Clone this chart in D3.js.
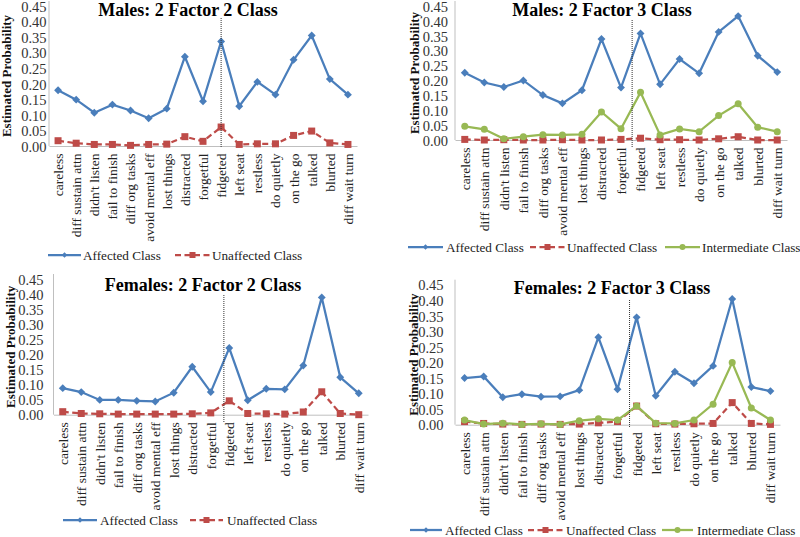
<!DOCTYPE html>
<html>
<head>
<meta charset="utf-8">
<script src="https://cdn.jsdelivr.net/npm/d3@7"></script>
<style>
  html, body { margin: 0; padding: 0; background: #fff; }
  svg { display: block; }
  svg text { font-family: "Liberation Serif", "Times New Roman", serif; }
</style>
</head>
<body>
<svg id="chart" width="800" height="537"></svg>
<script>
// ---------------- DATA ----------------
const categories = ["careless", "diff sustain attn", "didn't listen", "fail to finish", "diff org tasks",
  "avoid mental eff", "lost things", "distracted", "forgetful", "fidgeted", "left seat", "restless",
  "do quietly", "on the go", "talked", "blurted", "diff wait turn"];

const yTicks = [0, 0.05, 0.10, 0.15, 0.20, 0.25, 0.30, 0.35, 0.40, 0.45];

const seriesNames = ["Affected Class", "Unaffected Class", "Intermediate Class"];

const panelTitles = ["Males: 2 Factor 2 Class", "Males: 2 Factor 3 Class",
  "Females: 2 Factor 2 Class", "Females: 2 Factor 3 Class"];

const malesAffected2C   = [0.179, 0.149, 0.107, 0.133, 0.114, 0.089, 0.120, 0.287, 0.144, 0.336, 0.128, 0.206, 0.165, 0.277, 0.355, 0.215, 0.165];
const malesUnaffected2C = [0.017, 0.009, 0.005, 0.005, 0.002, 0.005, 0.006, 0.030, 0.015, 0.061, 0.005, 0.007, 0.007, 0.034, 0.048, 0.010, 0.005];

const malesAffected3C     = [0.226, 0.193, 0.178, 0.200, 0.151, 0.123, 0.167, 0.339, 0.176, 0.358, 0.187, 0.272, 0.224, 0.363, 0.416, 0.283, 0.228];
const malesUnaffected3C   = [0.002, 0.000, 0.001, 0.000, 0.000, 0.001, 0.000, 0.000, 0.002, 0.006, 0.001, 0.001, 0.000, 0.004, 0.011, 0.000, 0.000];
const malesIntermediate3C = [0.046, 0.036, 0.004, 0.011, 0.018, 0.017, 0.019, 0.094, 0.038, 0.160, 0.017, 0.037, 0.028, 0.082, 0.122, 0.043, 0.028];

const femalesAffected2C   = [0.088, 0.075, 0.049, 0.049, 0.046, 0.044, 0.073, 0.159, 0.075, 0.221, 0.048, 0.086, 0.084, 0.163, 0.389, 0.124, 0.071];
const femalesUnaffected2C = [0.010, 0.004, 0.003, 0.002, 0.002, 0.002, 0.002, 0.003, 0.006, 0.046, 0.004, 0.003, 0.002, 0.009, 0.076, 0.004, 0.000];

const femalesAffected3C     = [0.150, 0.155, 0.088, 0.098, 0.090, 0.091, 0.111, 0.281, 0.114, 0.345, 0.093, 0.170, 0.133, 0.189, 0.404, 0.121, 0.108];
const femalesUnaffected3C   = [0.010, 0.004, 0.002, 0.001, 0.002, 0.001, 0.002, 0.006, 0.010, 0.060, 0.003, 0.002, 0.003, 0.004, 0.071, 0.004, 0.001];
const femalesIntermediate3C = [0.015, 0.002, 0.005, 0.001, 0.003, 0.001, 0.013, 0.019, 0.015, 0.060, 0.005, 0.004, 0.015, 0.066, 0.200, 0.054, 0.015];

// ---------------- LAYOUT / STYLE ----------------
const colors = ["#4A7EBB", "#BE4B48", "#98B954"];
const dividerAfter = "forgetful";
const serif = "'Liberation Serif', 'Times New Roman', serif";

const panels = [
  { title: panelTitles[0], series: [malesAffected2C, malesUnaffected2C],
    x0: 49, x1: 357, yBottom: 146, yTop: 6, labelRight: 46.5, yTitleX: 11,
    titleX: 188, titleY: 16, divFrac: 1.0, divTop: 18, divBottom: 147,
    legendY: 255, legend: [[48, 81, 83], [175, 210, 212]] },
  { title: panelTitles[1], series: [malesAffected3C, malesUnaffected3C, malesIntermediate3C],
    x0: 455, x1: 787, yBottom: 140, yTop: 6, labelRight: 448, yTitleX: 419,
    titleX: 602, titleY: 16, divFrac: 0.57, divTop: 20, divBottom: 148,
    legendY: 247, legend: [[408, 443, 446], [530, 565, 567], [665, 700, 702]] },
  { title: panelTitles[2], series: [femalesAffected2C, femalesUnaffected2C],
    x0: 53.5, x1: 368, yBottom: 414.7, yTop: 279, labelRight: 43.5, yTitleX: 15,
    titleX: 203, titleY: 290.5, divFrac: 0.71, divTop: 295, divBottom: 422,
    legendY: 520, legend: [[63, 97, 100], [190, 223, 227]] },
  { title: panelTitles[3], series: [femalesAffected3C, femalesUnaffected3C, femalesIntermediate3C],
    x0: 455, x1: 780, yBottom: 424.7, yTop: 284.7, labelRight: 443.5, yTitleX: 418,
    titleX: 612, titleY: 293.5, divFrac: 0.63, divTop: 300, divBottom: 428,
    legendY: 530, legend: [[410, 442, 445], [528, 563, 566], [662, 693, 697]] }
];

const svg = d3.select("#chart");
svg.append("rect").attr("width", 800).attr("height", 537).attr("fill", "#fff");

function drawMarker(g, type, cx, cy, size, color) {
  if (type === 0) {
    g.append("path").attr("d", d3.symbol().type(d3.symbolDiamond2).size(size * size * 0.55)())
      .attr("transform", `translate(${cx},${cy})`).attr("fill", color);
  } else if (type === 1) {
    g.append("rect").attr("x", cx - size / 2).attr("y", cy - size / 2)
      .attr("width", size).attr("height", size).attr("fill", color);
  } else {
    g.append("circle").attr("cx", cx).attr("cy", cy).attr("r", size / 2).attr("fill", color);
  }
}

panels.forEach(p => {
  const g = svg.append("g");
  const x = d3.scalePoint().domain(categories).range([p.x0, p.x1]).padding(0.5);
  const y = d3.scaleLinear().domain([0, 0.45]).range([p.yBottom, p.yTop]);

  // y axis labels
  const yAxis = d3.axisLeft(y).tickValues(yTicks).tickSize(0).tickPadding(0)
    .tickFormat(d3.format(".2f"));
  const ya = g.append("g").attr("transform", `translate(${p.labelRight},0)`).call(yAxis)
    .attr("font-family", null);
  ya.select(".domain").remove();
  ya.selectAll("text").style("font-family", serif).style("font-size", "14.5px")
    .attr("fill", "#333").attr("dy", "0.36em");

  // y axis line
  g.append("line").attr("x1", p.x0).attr("x2", p.x0)
    .attr("y1", y(0.45) - 5).attr("y2", y(0))
    .attr("stroke", "#BFBFBF").attr("stroke-width", 1);

  // x axis
  const xAxis = d3.axisBottom(x).tickSize(0).tickSizeOuter(0).tickPadding(0);
  const xa = g.append("g").attr("transform", `translate(0,${y(0)})`).call(xAxis)
    .attr("font-family", null);
  xa.select(".domain").attr("stroke", "#BFBFBF").attr("stroke-width", 1);
  xa.selectAll("text").style("font-family", serif).style("font-size", "13.5px")
    .attr("fill", "#222")
    .attr("text-anchor", "end")
    .attr("transform", "translate(0,7.5) rotate(-90)")
    .attr("x", 0).attr("y", 0).attr("dy", "0.33em");

  // y title
  g.append("text").attr("transform", `translate(${p.yTitleX},${(y(0) + y(0.45)) / 2}) rotate(-90)`)
    .attr("text-anchor", "middle").attr("font-weight", "bold").style("font-size", "13px")
    .attr("fill", "#111").text("Estimated Probability");

  // panel title
  g.append("text").attr("x", p.titleX).attr("y", p.titleY).attr("text-anchor", "middle")
    .attr("font-weight", "bold").style("font-size", "18px").attr("fill", "#000").text(p.title);

  // series
  p.series.forEach((vals, si) => {
    const line = d3.line().x((d, i) => x(categories[i])).y(d => y(d));
    g.append("path").datum(vals).attr("d", line).attr("fill", "none")
      .attr("stroke", colors[si]).attr("stroke-width", 2.25)
      .attr("stroke-dasharray", si === 1 ? "6,3.5" : null);
    vals.forEach((v, i) => drawMarker(g, si, x(categories[i]), y(v), si === 0 ? 8.5 : 7, colors[si]));
  });

  // divider (dotted)
  const di = categories.indexOf(dividerAfter);
  const dx = x(categories[di]) + p.divFrac * x.step();
  g.append("line").attr("x1", dx).attr("x2", dx).attr("y1", p.divTop).attr("y2", p.divBottom)
    .attr("stroke", "#333").attr("stroke-width", 1).attr("stroke-dasharray", "1,1");

  // legend
  p.legend.forEach((L, si) => {
    const [lx0, lx1, tx] = L;
    g.append("line").attr("x1", lx0).attr("x2", lx1).attr("y1", p.legendY).attr("y2", p.legendY)
      .attr("stroke", colors[si]).attr("stroke-width", 2.25)
      .attr("stroke-dasharray", si === 1 ? "6,3.5" : null);
    drawMarker(g, si, (lx0 + lx1) / 2, p.legendY, 6, colors[si]);
    g.append("text").attr("x", tx).attr("y", p.legendY + 5).style("font-size", "13.2px")
      .attr("fill", "#222").text(seriesNames[si]);
  });
});
</script>
</body>
</html>
